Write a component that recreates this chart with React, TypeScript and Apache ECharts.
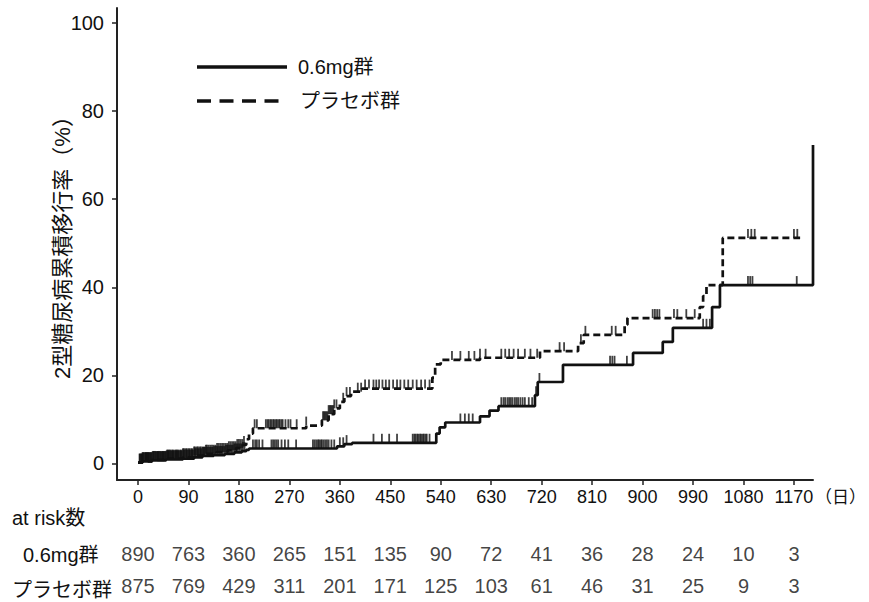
import React, { useEffect, useRef } from "react";
import * as echarts from "echarts";

const tickDays = [0, 90, 180, 270, 360, 450, 540, 630, 720, 810, 900, 990, 1080, 1170];
const yTicks = [0, 20, 40, 60, 80, 100];
const groupNames = ["0.6mg群", "プラセボ群"];
const riskLow = [890, 763, 360, 265, 151, 135, 90, 72, 41, 36, 28, 24, 10, 3];
const riskPlacebo = [875, 769, 429, 311, 201, 171, 125, 103, 61, 46, 31, 25, 9, 3];

// [day, cumulative incidence (%) from this day on]
const lowCurve: [number, number][] = [
  [0, 0.2], [8, 0.5], [25, 0.7], [50, 0.9], [80, 1.1], [100, 1.4], [115, 1.7],
  [135, 1.9], [155, 2.2], [172, 2.5], [185, 2.8], [193, 3.1], [198, 3.4],
  [355, 3.9], [368, 4.4], [382, 4.7], [532, 6.8], [538, 8.2], [548, 9.3],
  [610, 10.7], [627, 12.0], [643, 13.0], [708, 15.5], [713, 18.5], [758, 22.4],
  [883, 25.1], [936, 27.6], [954, 30.8], [1024, 35.5], [1038, 40.5], [1204, 72.3],
];
const placeboCurve: [number, number][] = [
  [0, 0.2], [8, 0.5], [25, 0.8], [50, 1.1], [80, 1.4], [100, 1.8], [120, 2.2],
  [140, 2.6], [160, 3.0], [175, 3.5], [187, 4.2], [193, 5.5], [198, 6.8],
  [205, 8.0], [300, 8.6], [328, 9.8], [340, 11.2], [350, 12.5], [360, 14.0],
  [368, 15.3], [380, 16.3], [400, 17.0], [525, 19.5], [530, 22.5], [540, 23.5],
  [610, 24.0], [717, 25.5], [785, 27.3], [795, 29.2], [868, 31.5], [873, 33.0],
  [1002, 35.5], [1008, 38.0], [1014, 40.5], [1043, 51.2], [1181, 51.2],
];

const lowCensor = [
  3, 5, 7, 9, 12, 14, 16, 18, 20, 22, 24, 26, 28, 31, 33, 35, 37, 40, 42, 44, 46, 49, 51,
  53, 55, 58, 60, 62, 64, 67, 69, 71, 73, 76, 78, 81, 83, 86, 88, 91, 93, 96, 98,
  101, 103, 106, 108, 111, 113, 116, 118, 121, 124, 127, 130, 133, 136, 139, 142, 145,
  148, 151, 154, 157, 160, 163, 166, 169, 172, 175, 178, 181, 184, 187, 190,
  205, 209, 212, 216, 222, 238, 241, 244, 247, 250, 256, 262, 268, 282,
  312, 315, 318, 321, 323, 326, 328, 331, 334, 337, 340, 345, 350, 360, 366, 372,
  420, 435, 448, 462, 490, 493, 495, 498, 500, 503, 505, 508, 510, 513, 515, 520,
  575, 583, 590, 597, 648, 652, 655, 659, 662, 665, 668, 672, 675, 678, 682, 686, 690, 697, 703, 710, 716,
  842, 846, 850, 872, 1008, 1014, 1020, 1088, 1092, 1096, 1175,
];
const placeboCensor = [
  3, 6, 8, 10, 13, 15, 17, 19, 22, 24, 27, 29, 31, 34, 36, 38, 40, 43, 45, 47, 49, 52,
  54, 56, 58, 61, 63, 66, 68, 70, 72, 75, 77, 80, 82, 85, 87, 90, 92, 95, 97,
  100, 102, 105, 107, 110, 112, 115, 118, 121, 123, 126, 129, 132, 135, 138, 141,
  144, 147, 150, 153, 156, 159, 162, 165, 168, 171, 174, 177, 180, 183, 186, 189,
  208, 212, 228, 231, 233, 236, 238, 241, 243, 246, 248, 251, 253, 256, 258, 263, 268, 272, 283, 300,
  330, 332, 334, 336, 338, 340, 342, 344, 346, 348, 350, 354, 366, 372, 378,
  392, 398, 405, 412, 420, 425, 430, 436, 442, 448, 455, 462, 468, 475, 482, 490, 497, 505, 512, 520,
  560, 575, 590, 600, 610, 620, 648, 655, 662, 670, 678, 690, 700, 712,
  752, 760, 790, 798, 845, 852, 918, 922, 926, 930, 956, 962, 978, 993,
  1088, 1094, 1100, 1170, 1176,
];

const FONT = "'Liberation Sans', Arial, 'Noto Sans CJK JP', sans-serif";
const INK = "#111";

function levelAt(curve: [number, number][], day: number): number {
  let v = curve[0][1];
  for (const [d, y] of curve) {
    if (d <= day) v = y;
    else break;
  }
  return v;
}

export default function App() {
  const ref = useRef<HTMLDivElement>(null);
  useEffect(() => {
    if (!ref.current) return;
    const chart = echarts.init(ref.current, null, { renderer: "svg" });
    const censorSeries = (days: number[], curve: [number, number][]) => ({
      type: "scatter",
      xAxisIndex: 0,
      yAxisIndex: 0,
      symbol: "rect",
      symbolSize: [1.8, 9],
      symbolOffset: [0, -4.5],
      itemStyle: { color: INK },
      silent: true,
      clip: false,
      data: days.map((d) => [d, levelAt(curve, d)]),
      z: 3,
    });
    chart.setOption({
      animation: false,
      backgroundColor: "#fff",
      grid: [
        { left: 117, right: 56, top: 8, bottom: 122 },
        { left: 117, right: 56, top: 537.5, height: 70 },
      ],
      xAxis: [
        {
          type: "value",
          gridIndex: 0,
          min: -37.5,
          max: 1204,
          splitLine: { show: false },
          axisLine: { show: true, onZero: false, lineStyle: { color: "#222", width: 2 } },
          axisTick: { show: true, customValues: tickDays, length: 5, lineStyle: { color: "#222", width: 1.5 } },
          axisLabel: {
            customValues: tickDays,
            formatter: (v: number) => String(v),
            margin: 8,
            fontSize: 18,
            color: INK,
            fontFamily: FONT,
          },
        },
        { type: "value", gridIndex: 1, min: -37.5, max: 1204, show: false },
      ],
      yAxis: [
        {
          type: "value",
          gridIndex: 0,
          min: -3.75,
          max: 103.4,
          splitLine: { show: false },
          axisLine: { show: true, onZero: false, lineStyle: { color: "#222", width: 2 } },
          axisTick: { show: true, customValues: yTicks, length: 5, lineStyle: { color: "#222", width: 1.5 } },
          axisLabel: {
            customValues: yTicks,
            formatter: (v: number) => String(v),
            margin: 13,
            fontSize: 20,
            color: INK,
            fontFamily: FONT,
          },
        },
        { type: "category", gridIndex: 1, data: [groupNames[1], groupNames[0]], show: false },
      ],
      series: [
        {
          type: "line",
          name: groupNames[0],
          step: "end",
          symbol: "none",
          clip: false,
          lineStyle: { color: INK, width: 2.7 },
          data: lowCurve,
          z: 4,
        },
        {
          type: "line",
          name: groupNames[1],
          step: "end",
          symbol: "none",
          clip: false,
          lineStyle: { color: INK, width: 2.7, type: [7, 4] },
          data: placeboCurve,
          z: 4,
        },
        censorSeries(lowCensor, lowCurve),
        censorSeries(placeboCensor, placeboCurve),
        {
          type: "scatter",
          xAxisIndex: 1,
          yAxisIndex: 1,
          symbolSize: 0,
          silent: true,
          data: [
            ...tickDays.map((d, i) => [d, groupNames[0], riskLow[i]]),
            ...tickDays.map((d, i) => [d, groupNames[1], riskPlacebo[i]]),
          ],
          label: {
            show: true,
            position: "inside",
            formatter: (p: any) => String(p.value[2]),
            fontSize: 20,
            color: INK,
            fontFamily: FONT,
          },
        },
      ],
      graphic: [
        { type: "line", shape: { x1: 197, y1: 67, x2: 287, y2: 67 }, style: { stroke: INK, lineWidth: 3.5 } },
        { type: "text", x: 298, y: 67, style: { text: groupNames[0], fontSize: 20, fill: INK, fontFamily: FONT, verticalAlign: "middle" } },
        { type: "line", shape: { x1: 197, y1: 101, x2: 279, y2: 101 }, style: { stroke: INK, lineWidth: 3.5, lineDash: [14, 8.5] } },
        { type: "text", x: 300, y: 101, style: { text: groupNames[1], fontSize: 20, fill: INK, fontFamily: FONT, verticalAlign: "middle" } },
        {
          type: "text", x: 62, y: 242, rotation: Math.PI / 2,
          style: { text: "2型糖尿病累積移行率（%）", fontSize: 22, fill: INK, fontFamily: FONT, align: "center", verticalAlign: "middle" },
        },
        { type: "text", x: 866, y: 497, style: { text: "（日）", fontSize: 17, fill: INK, fontFamily: FONT, align: "right", verticalAlign: "middle" } },
        { type: "text", x: 12, y: 518, style: { text: "at risk数", fontSize: 20, fill: INK, fontFamily: FONT, verticalAlign: "middle" } },
        { type: "text", x: 23, y: 555, style: { text: groupNames[0], fontSize: 20, fill: INK, fontFamily: FONT, verticalAlign: "middle" } },
        { type: "text", x: 12, y: 590, style: { text: groupNames[1], fontSize: 20, fill: INK, fontFamily: FONT, verticalAlign: "middle" } },
      ],
    });
    return () => chart.dispose();
  }, []);
  return (
    <div
      ref={ref}
      style={{ position: "fixed", left: 0, top: 0, width: 869, height: 602, background: "#fff" }}
    />
  );
}
